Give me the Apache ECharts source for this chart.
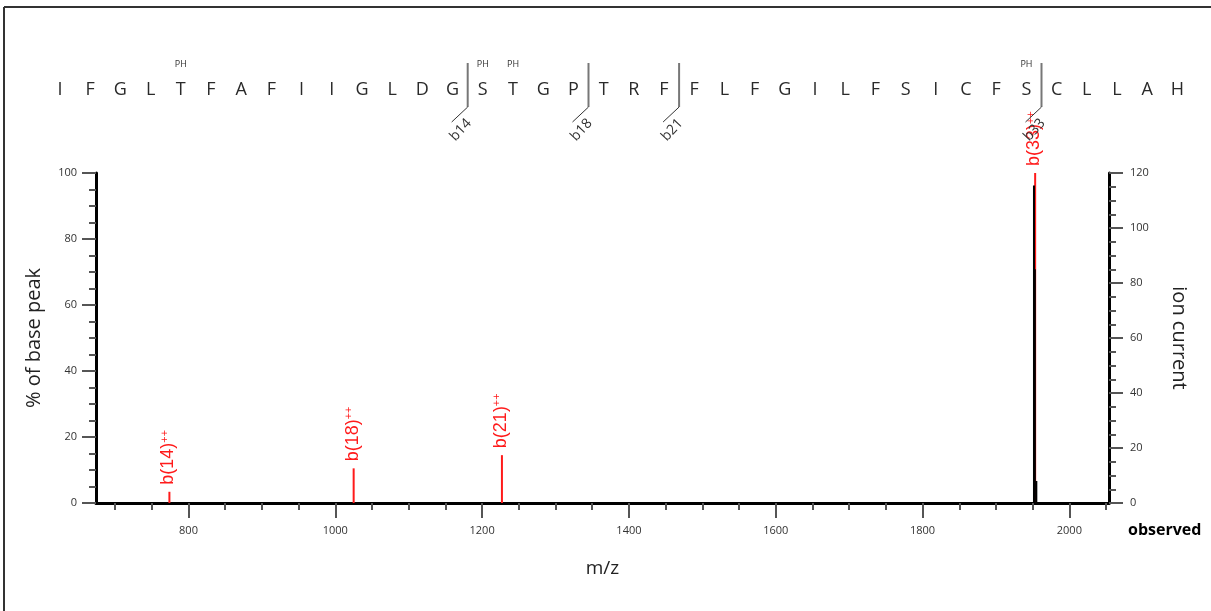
<!DOCTYPE html>
<html>
<head>
<meta charset="utf-8">
<script src="https://cdn.jsdelivr.net/npm/echarts@6/dist/echarts.min.js"></script>
<style>
  html, body { margin: 0; padding: 0; background: #fff; }
  #chart { width: 1211px; height: 611px; }
</style>
</head>
<body>
<div id="chart"></div>
<script>
// Peptide sequence and its annotations
const residues = ['I','F','G','L','T','F','A','F','I','I','G','L','D','G','S','T','G','P','T','R',
                  'F','F','L','F','G','I','L','F','S','I','C','F','S','C','L','L','A','H'];
const phosphoSites = [5, 15, 16, 33];
const fragmentSites = [14, 18, 21, 33];
const fragmentNames = ['b14', 'b18', 'b21', 'b33'];

// Matched doubly charged b ions: m/z and % of base peak
const ionNames = ['14', '18', '21', '33'];
const ionMz = [774, 1025, 1227, 1953.4];
const ionPercent = [3.4, 10.5, 14.5, 100];

// Observed peaks: m/z and ion current
const observedMz = [1951.8, 1953.0, 1955.0];
const observedCurrent = [115.5, 85, 8];

// m/z axis ticks
const mzMajorTicks = [800, 1000, 1200, 1400, 1600, 1800, 2000];
const mzMinorTicks = [700, 750, 800, 850, 900, 950, 1000, 1050, 1100, 1150, 1200, 1250, 1300, 1350,
                      1400, 1450, 1500, 1550, 1600, 1650, 1700, 1750, 1800, 1850, 1900, 1950, 2000, 2050];

const RED = '#ff1a1a';
const TEXT = '#333';
const UI_FONT = 'Open Sans';

// vertical sticks drawn from the axis baseline up to the value
function stickRenderer(color, width, labels) {
  return function (params, api) {
    const x = api.value(0), y = api.value(1);
    const base = api.coord([x, 0]);
    const top = api.coord([x, y]);
    const children = [{
      type: 'line',
      shape: { x1: base[0], y1: base[1], x2: top[0], y2: top[1] },
      style: { stroke: color, lineWidth: width }
    }];
    if (labels) {
      children.push({
        type: 'text',
        x: top[0] - 1,
        y: top[1] - 7,
        rotation: Math.PI / 2,
        style: {
          text: '{m|b(' + labels[params.dataIndex] + ')}{s|++}',
          align: 'left',
          verticalAlign: 'middle',
          rich: {
            m: { fontSize: 18, fontFamily: 'Liberation Sans', fill: color },
            s: { fontSize: 11, fontFamily: 'Liberation Sans', fill: color, verticalAlign: 'top' }
          }
        }
      });
    }
    return { type: 'group', children: children };
  };
}

const tickLine = { color: '#555', width: 2 };
const plainNumber = v => String(v);

const option = {
  animation: false,
  backgroundColor: '#fff',
  grid: [
    { left: 96, right: 102, top: 173, bottom: 108 },
    { left: 29.8, width: 1177.8, top: 60, height: 64 }
  ],
  xAxis: [
    {
      type: 'value', gridIndex: 0, position: 'bottom', min: 674, max: 2054,
      axisLine: { onZero: false, lineStyle: { color: '#000', width: 3 } },
      axisTick: { show: true, length: 15, customValues: mzMajorTicks, lineStyle: tickLine },
      axisLabel: { customValues: mzMajorTicks, formatter: plainNumber, margin: 22,
                   fontSize: 11, color: TEXT, fontFamily: UI_FONT },
      splitLine: { show: false },
      name: 'm/z', nameLocation: 'middle', nameGap: 56,
      nameTextStyle: { fontSize: 19, color: '#222', fontFamily: UI_FONT }
    },
    {
      type: 'value', gridIndex: 0, position: 'bottom', min: 674, max: 2054,
      axisLine: { show: false, onZero: false },
      axisTick: { show: true, length: 7, customValues: mzMinorTicks, lineStyle: tickLine },
      axisLabel: { show: false },
      splitLine: { show: false },
      name: 'observed', nameLocation: 'end', nameGap: 19,
      nameTextStyle: { fontSize: 16, fontWeight: 'bold', color: '#000', fontFamily: UI_FONT,
                       verticalAlign: 'top', padding: [19, 0, 0, 0] }
    },
    { type: 'value', gridIndex: 1, min: 0, max: 39, show: false }
  ],
  yAxis: [
    {
      type: 'value', gridIndex: 0, position: 'left', min: 0, max: 100, interval: 20,
      axisLine: { show: true, onZero: false, lineStyle: { color: '#000', width: 3 } },
      axisTick: { show: true, length: 14, lineStyle: tickLine },
      minorTick: { show: true, splitNumber: 4, length: 7, lineStyle: tickLine },
      splitLine: { show: false },
      axisLabel: { margin: 19, fontSize: 11, color: TEXT, fontFamily: UI_FONT },
      name: '% of base peak', nameLocation: 'middle', nameRotate: 90, nameGap: 52,
      nameTextStyle: { fontSize: 20, color: '#222', fontFamily: UI_FONT }
    },
    {
      type: 'value', gridIndex: 0, position: 'right', min: 0, max: 120, interval: 20,
      axisLine: { show: true, onZero: false, lineStyle: { color: '#000', width: 3 } },
      axisTick: { show: true, length: 14, lineStyle: tickLine },
      minorTick: { show: true, splitNumber: 4, length: 7, lineStyle: tickLine },
      splitLine: { show: false },
      axisLabel: { margin: 21, fontSize: 11, color: TEXT, fontFamily: UI_FONT },
      name: 'ion current', nameLocation: 'middle', nameRotate: -90, nameGap: 60,
      nameTextStyle: { fontSize: 20, color: '#222', fontFamily: UI_FONT }
    },
    { type: 'value', gridIndex: 1, min: 0, max: 64, inverse: true, show: false }
  ],
  series: [
    {
      name: 'b ions',
      type: 'custom',
      xAxisIndex: 0, yAxisIndex: 0, z: 2,
      data: ionMz.map((m, i) => [m, ionPercent[i]]),
      renderItem: stickRenderer(RED, 2, ionNames)
    },
    {
      name: 'observed',
      type: 'custom',
      xAxisIndex: 0, yAxisIndex: 1, z: 3,
      data: observedMz.map((m, i) => [m, observedCurrent[i]]),
      renderItem: stickRenderer('#000', 2, null)
    },
    {
      name: 'sequence',
      type: 'custom',
      xAxisIndex: 2, yAxisIndex: 2,
      data: residues.map((r, i) => [i + 1, 30]),
      renderItem: function (params, api) {
        const pos = api.value(0);
        const p = api.coord([pos, api.value(1)]);
        const kids = [{
          type: 'text', x: p[0], y: p[1],
          style: { text: residues[pos - 1], fontSize: 18, fontFamily: UI_FONT, fill: '#2a2a2a',
                   align: 'center', verticalAlign: 'middle' }
        }];
        if (phosphoSites.indexOf(pos) >= 0) {
          const q = api.coord([pos, 4]);
          kids.push({
            type: 'text', x: q[0], y: q[1],
            style: { text: 'PH', fontSize: 9, fontFamily: UI_FONT, fill: TEXT,
                     align: 'center', verticalAlign: 'middle' }
          });
        }
        return { type: 'group', children: kids };
      }
    },
    {
      name: 'cleavage',
      type: 'custom',
      xAxisIndex: 2, yAxisIndex: 2,
      data: fragmentSites.map(s => [s + 0.5, 3, 47]),
      renderItem: function (params, api) {
        const a = api.coord([api.value(0), api.value(1)]);
        const b = api.coord([api.value(0), api.value(2)]);
        return {
          type: 'group',
          children: [
            { type: 'line', shape: { x1: a[0], y1: a[1], x2: b[0], y2: b[1] },
              style: { stroke: '#777', lineWidth: 2 } },
            { type: 'line', shape: { x1: b[0], y1: b[1], x2: b[0] - 16, y2: b[1] + 15 },
              style: { stroke: '#333', lineWidth: 1 } },
            { type: 'text', x: b[0] - 7, y: b[1] + 23, rotation: 0.82,
              style: { text: fragmentNames[params.dataIndex], fontSize: 14, fontFamily: UI_FONT,
                       fill: TEXT, align: 'center', verticalAlign: 'middle' } }
          ]
        };
      }
    }
  ],
  graphic: [
    { type: 'line', shape: { x1: 4, y1: 7, x2: 1211, y2: 7 }, style: { stroke: '#333', lineWidth: 2 } },
    { type: 'line', shape: { x1: 4, y1: 7, x2: 4, y2: 611 }, style: { stroke: '#333', lineWidth: 2 } }
  ]
};

const chart = echarts.init(document.getElementById('chart'), null, { renderer: 'canvas' });
chart.setOption(option);
</script>
</body>
</html>
